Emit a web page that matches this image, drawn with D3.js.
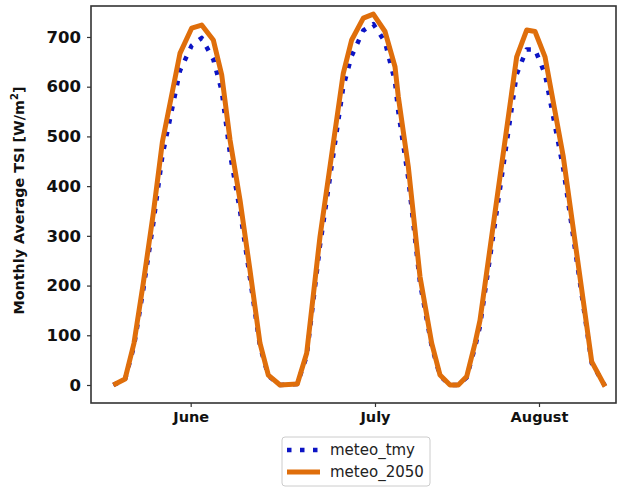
<!DOCTYPE html>
<html>
<head>
<meta charset="utf-8">
<script src="https://cdn.jsdelivr.net/npm/d3@7"></script>
<style>
  html, body { margin: 0; padding: 0; background: #fff; }
  svg { display: block; }
</style>
</head>
<body>
<svg id="chart" width="617" height="489"></svg>
<script>
// ---- data (x in hourly-sample units) ----
const hourIndex = [3.19, 4.86, 6.14, 7.47, 8.9, 10.21, 12.71, 14.39, 15.81, 17.47, 18.67, 19.86, 21.29, 22.71, 24.14, 25.33,
  27.0, 29.47, 30.81, 32.71, 36.04, 37.24, 38.9, 40.33, 42.0, 43.43, 43.9, 45.33, 47.0, 48.67, 49.86,
  51.29, 52.47, 53.67, 54.86, 55.57, 60.81, 62.24, 63.43, 64.86, 67.47, 71.53, 73.43];
const meteo2050 = [0, 12, 84, 205, 345, 490, 667, 718, 724, 694, 624, 493, 372, 231, 84, 20,
  0, 2, 64, 298, 627, 694, 738, 746, 711, 640, 580, 439, 218, 84, 20,
  0, 0, 17, 84, 130, 660, 714, 711, 660, 459, 47, -3];
const meteoTmy = [0, 11, 78, 192, 325, 462, 632, 683, 698, 655, 592, 465, 350, 215, 78, 18,
  0, 2, 58, 280, 600, 662, 713, 726, 690, 610, 550, 415, 205, 78, 18,
  0, 0, 15, 76, 118, 625, 675, 675, 625, 435, 44, -2];
const monthTicks = [14.24, 40.57, 64.0];
const monthLabels = ["June", "July", "August"];
const yTicks = [0, 100, 200, 300, 400, 500, 600, 700];
const seriesNames = ["meteo_tmy", "meteo_2050"];

// ---- layout ----
const svg = d3.select("#chart");
const L = 91, R = 616, T = 6, B = 403;
const x = d3.scaleLinear().domain([0, 75]).range([L, R]);
const y = d3.scaleLinear().domain([-36.2, 762.3]).range([B, T]);

const orange = "#df6e0b";
const blue = "#0c14c4";

// lines
const line = d3.line().x(d => x(d[0])).y(d => y(d[1]));
const tmyPts = hourIndex.map((h, i) => [h, meteoTmy[i]]);
const futPts = hourIndex.map((h, i) => [h, meteo2050[i]]);

svg.append("path").datum(tmyPts).attr("d", line)
  .attr("fill", "none").attr("stroke", blue).attr("stroke-width", 4.5)
  .attr("stroke-dasharray", "4.5,8.5").attr("stroke-linejoin", "round");
svg.append("path").datum(futPts).attr("d", line)
  .attr("fill", "none").attr("stroke", orange).attr("stroke-width", 5)
  .attr("stroke-linejoin", "round").attr("stroke-linecap", "butt");

// axes
const yAxis = d3.axisLeft(y).tickValues(yTicks).tickSize(4).tickPadding(6);
const gy = svg.append("g").attr("transform", `translate(${L},0)`).call(yAxis);
gy.select(".domain").remove();
gy.selectAll("line").attr("stroke", "#333").attr("stroke-width", 1.2);
gy.selectAll("text").attr("font-family", "DejaVu Sans").attr("font-weight", "bold")
  .attr("font-size", "16.5px").attr("fill", "#111");

const xAxis = d3.axisBottom(x).tickValues(monthTicks).tickFormat((d, i) => monthLabels[i]).tickSize(4).tickPadding(5);
const gx = svg.append("g").attr("transform", `translate(0,${B})`).call(xAxis);
gx.select(".domain").remove();
gx.selectAll("line").attr("stroke", "#333").attr("stroke-width", 1.2);
gx.selectAll("text").attr("font-family", "DejaVu Sans").attr("font-weight", "bold")
  .attr("font-size", "14.5px").attr("fill", "#111");

// frame
svg.append("rect").attr("x", L).attr("y", T).attr("width", R - L).attr("height", B - T)
  .attr("fill", "none").attr("stroke", "#333").attr("stroke-width", 1.6);

// y label
svg.append("text")
  .attr("transform", `translate(24,${(T + B) / 2 - 4}) rotate(-90)`)
  .attr("text-anchor", "middle")
  .attr("font-family", "DejaVu Sans").attr("font-weight", "bold").attr("font-size", "14.3px").attr("fill", "#111")
  .call(t => {
    t.append("tspan").text("Monthly Average TSI [W/m");
    t.append("tspan").attr("dy", -6).attr("font-size", "10px").text("2");
    t.append("tspan").attr("dy", 6).text("]");
  });

// legend
const lg = svg.append("g").attr("transform", "translate(282,437)");
lg.append("rect").attr("x", 0).attr("y", 0).attr("width", 148).attr("height", 49).attr("rx", 3)
  .attr("fill", "#fff").attr("stroke", "#ccc").attr("stroke-width", 1);
const legendStyles = [
  { color: blue, dash: "4.5,8.5", w: 4.5 },
  { color: orange, dash: null, w: 5 }
];
seriesNames.forEach((name, i) => {
  const yy = 13 + i * 22;
  lg.append("line").attr("x1", 5).attr("x2", 38).attr("y1", yy).attr("y2", yy)
    .attr("stroke", legendStyles[i].color).attr("stroke-width", legendStyles[i].w)
    .attr("stroke-dasharray", legendStyles[i].dash);
  lg.append("text").attr("x", 48).attr("y", yy + 5)
    .attr("font-family", "DejaVu Sans").attr("font-size", "15px").attr("fill", "#222").text(name);
});
</script>
</body>
</html>
